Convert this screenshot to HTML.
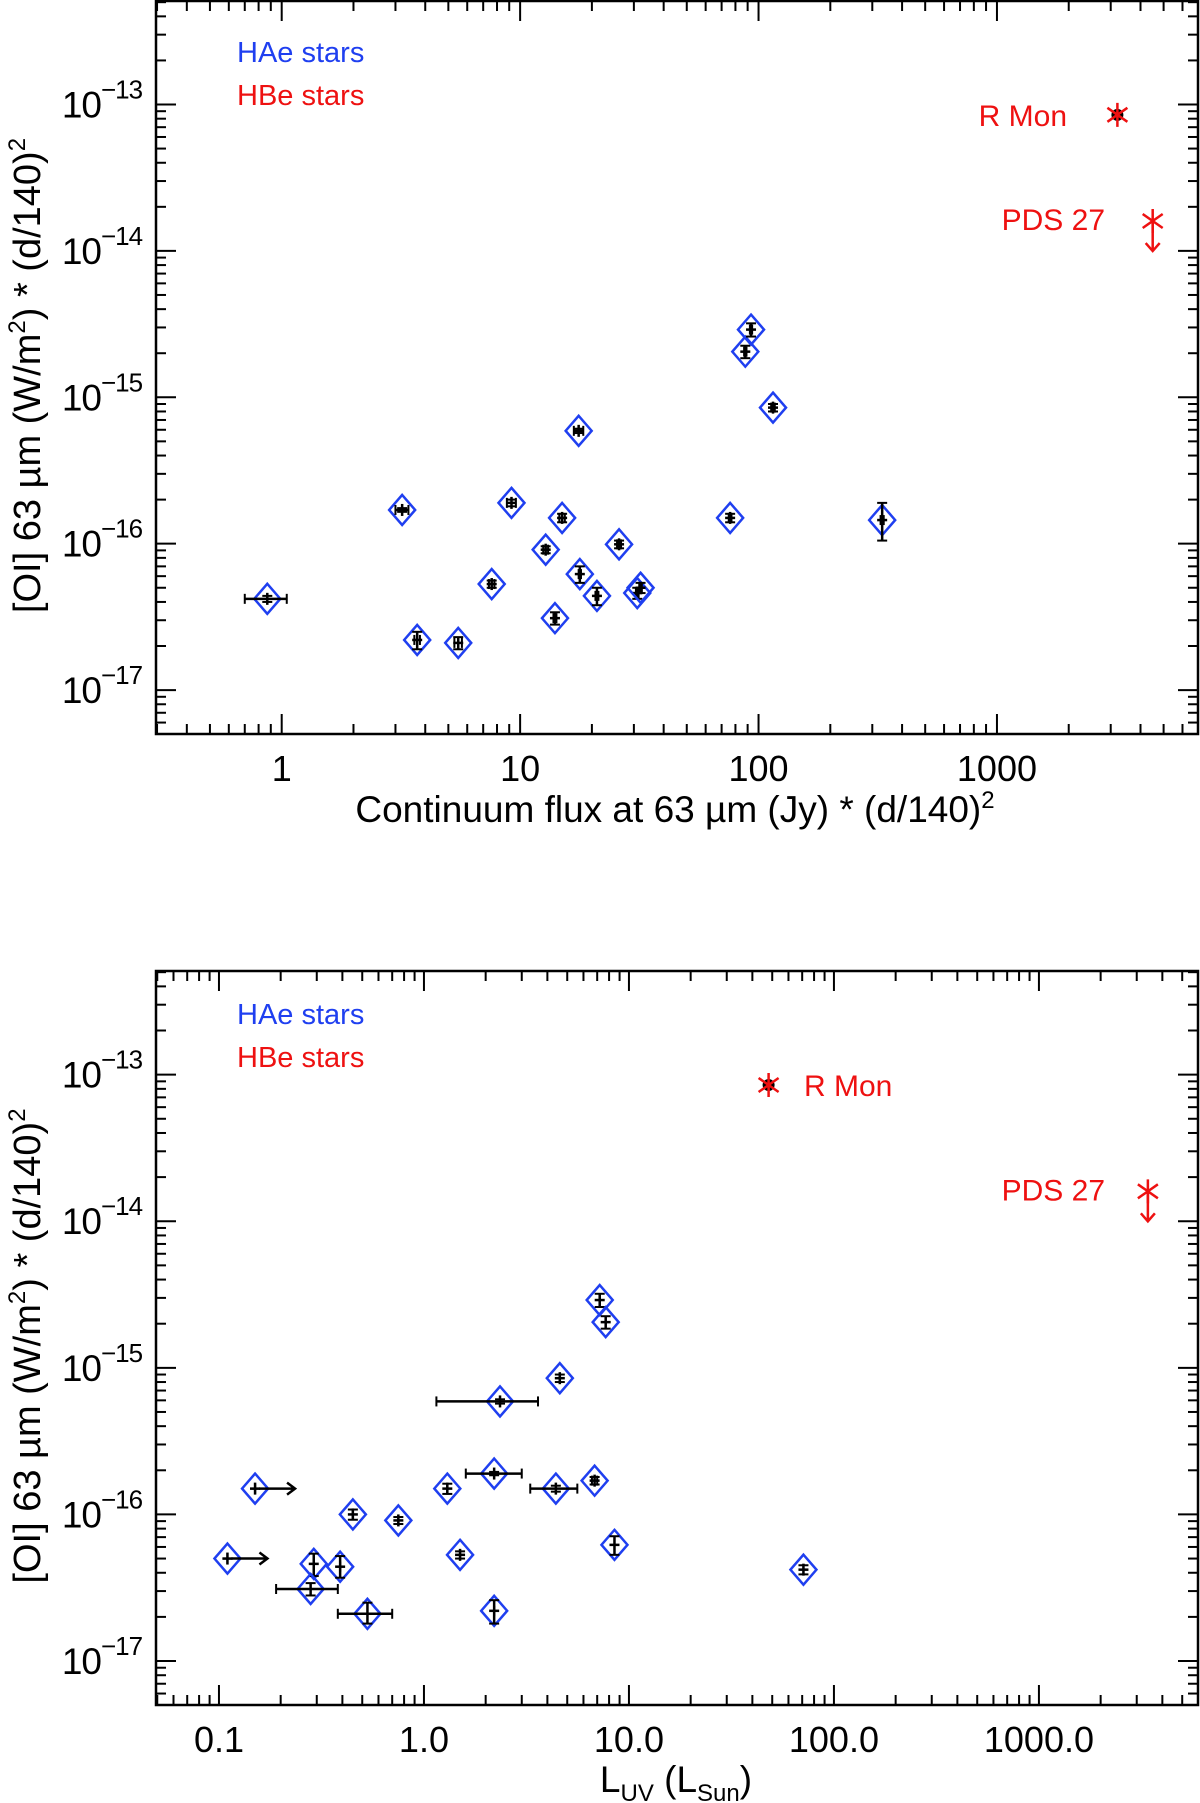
<!DOCTYPE html>
<html><head><meta charset="utf-8"><style>
html,body{margin:0;padding:0;background:#fff;}
svg{display:block;font-family:"Liberation Sans",sans-serif;}
</style></head><body>
<svg id="chart" width="1200" height="1803" viewBox="0 0 1200 1803" xmlns="http://www.w3.org/2000/svg"></svg>
<script>
// ---- Panel 1 data: continuum flux vs [OI] ----
const p1X = [0.87,3.2,3.7,5.5,7.6,9.2,12.8,14,15,17.6,17.8,21,26,31,32,76,88,93,115,330];
const p1Y = [4.2e-17,1.7e-16,2.2e-17,2.1e-17,5.3e-17,1.9e-16,9.1e-17,3.1e-17,1.5e-16,5.9e-16,6.2e-17,4.4e-17,9.9e-17,4.6e-17,5.0e-17,1.5e-16,2.05e-15,2.9e-15,8.5e-16,1.45e-16];
const p1Xlo = [0.7,3.0,3.6,5.3,7.4,8.8,12.5,13.8,14.6,16.8,17.6,20.7,25.5,30.6,31.6,75,87,92,113,325];
const p1Xhi = [1.05,3.4,3.8,5.7,7.8,9.6,13.1,14.2,15.4,18.4,18.0,21.3,26.5,31.4,32.4,77,89,94,117,335];
const p1Ylo = [4.0e-17,1.65e-16,1.9e-17,1.9e-17,5.0e-17,1.8e-16,8.6e-17,2.8e-17,1.4e-16,5.7e-16,5.4e-17,3.8e-17,9.3e-17,4.2e-17,4.6e-17,1.4e-16,1.85e-15,2.6e-15,8.0e-16,1.05e-16];
const p1Yhi = [4.4e-17,1.75e-16,2.5e-17,2.3e-17,5.6e-17,2.0e-16,9.6e-17,3.4e-17,1.6e-16,6.1e-16,7.0e-17,5.0e-17,1.05e-16,5.0e-17,5.4e-17,1.6e-16,2.25e-15,3.2e-15,9.0e-16,1.9e-16];
const p1RMon = [3200, 8.5e-14];
const p1PDS = [4500, 1.6e-14];
const p1XTicks = [1,10,100,1000];
const p1XTickLabels = ["1","10","100","1000"];
// ---- Panel 2 data: L_UV vs [OI] ----
const p2X = [0.11,0.15,0.29,0.28,0.39,0.45,0.53,0.75,1.3,1.5,2.2,2.2,2.35,4.4,4.6,6.8,7.2,7.7,8.5,71];
const p2Y = [5e-17,1.5e-16,4.6e-17,3.1e-17,4.4e-17,1.0e-16,2.1e-17,9.1e-17,1.5e-16,5.3e-17,2.2e-17,1.9e-16,5.9e-16,1.5e-16,8.5e-16,1.7e-16,2.9e-15,2.05e-15,6.2e-17,4.2e-17];
const p2Xlo = [0.11,0.15,0.29,0.19,0.39,0.45,0.38,0.75,1.3,1.5,2.2,1.6,1.15,3.3,4.6,6.6,7.2,7.7,8.5,71];
const p2Xhi = [0.11,0.15,0.29,0.38,0.39,0.45,0.70,0.75,1.3,1.5,2.2,3.0,3.6,5.6,4.6,7.0,7.2,7.7,8.5,71];
const p2Ylo = [5e-17,1.5e-16,3.8e-17,2.8e-17,3.7e-17,9.2e-17,1.8e-17,8.6e-17,1.38e-16,5.0e-17,1.8e-17,1.85e-16,5.7e-16,1.43e-16,8.0e-16,1.6e-16,2.6e-15,1.85e-15,5.3e-17,3.9e-17];
const p2Yhi = [5e-17,1.5e-16,5.4e-17,3.4e-17,5.2e-17,1.08e-16,2.5e-17,9.6e-17,1.62e-16,5.6e-17,2.6e-17,1.95e-16,6.1e-16,1.57e-16,9.0e-16,1.8e-16,3.2e-15,2.25e-15,7.1e-17,4.5e-17];
const p2LowerLim = [true,true,false,false,false,false,false,false,false,false,false,false,false,false,false,false,false,false,false,false];
const p2RMon = [48, 8.5e-14];
const p2PDS = [3400, 1.6e-14];
const p2XTicks = [0.1,1,10,100,1000];
const p2XTickLabels = ["0.1","1.0","10.0","100.0","1000.0"];
const yTickExp = [-13,-14,-15,-16,-17];

const NS="http://www.w3.org/2000/svg";
const svg=document.getElementById('chart');
function mk(tag,attrs,parent){const e=document.createElementNS(NS,tag);for(const k in attrs)e.setAttribute(k,attrs[k]);(parent||svg).appendChild(e);return e;}

function panel(cfg){
  const g=mk('g',{});
  
  
  const L=156,R=1198,T=cfg.top,B=cfg.bottom;
  const lx0=Math.log10(cfg.xmin),lx1=Math.log10(cfg.xmax),ly0=-17.3,ly1=-12.293;
  const sx=v=>L+(Math.log10(v)-lx0)/(lx1-lx0)*(R-L);
  const sy=v=>B-(Math.log10(v)-ly0)/(ly1-ly0)*(B-T);
  const frame=mk('rect',{x:L,y:T,width:R-L,height:B-T,fill:'none',stroke:'#000','stroke-width':2.5},g);
  
  
  for(let d=-18;d<=-12;d++){for(let m=1;m<=9;m++){const v=m*Math.pow(10,d);const lv=Math.log10(v);if(lv<ly0||lv>ly1)continue;const y=sy(v);const len=m===1?20:10;
    mk('line',{x1:L,x2:L+len,y1:y,y2:y,stroke:'#000','stroke-width':2},g);
    mk('line',{x1:R,x2:R-len,y1:y,y2:y,stroke:'#000','stroke-width':2},g);}}
  for(let d=-2;d<=4;d++){for(let m=1;m<=9;m++){const v=m*Math.pow(10,d);const lv=Math.log10(v);if(lv<lx0||lv>lx1)continue;const x=sx(v);const len=m===1?20:10;
    mk('line',{x1:x,x2:x,y1:B,y2:B-len,stroke:'#000','stroke-width':2},g);
    mk('line',{x1:x,x2:x,y1:T,y2:T+len,stroke:'#000','stroke-width':2},g);}}
  yTickExp.forEach(e=>{const y=sy(Math.pow(10,e));
    const t=mk('text',{x:101,y:y+13,'font-size':37,'text-anchor':'end','letter-spacing':'-1'},g);t.textContent='10';
    
    
    const s=mk('text',{x:101,y:y-6,'font-size':26,'letter-spacing':'-1'},g);s.textContent='\u2212'+(-e);});
  cfg.xt.forEach((v,i)=>{const t=mk('text',{x:sx(v),y:B+47,'font-size':36,'text-anchor':'middle'},g);t.textContent=cfg.xtl[i];
    
    });
  const yt=mk('text',{transform:`translate(40,${(T+B)/2+8}) rotate(-90)`,'font-size':38,'text-anchor':'middle'},g);
  
  
  yt.innerHTML='[OI] 63 \u00b5m (W/m<tspan font-size="24" dy="-15">2</tspan><tspan dy="15">) * (d/140)</tspan><tspan font-size="24" dy="-15">2</tspan>';
  const xtt=mk('text',{x:cfg.xtitleX,y:cfg.xtitleY,'font-size':cfg.xtitleSize,'text-anchor':'middle'},g);
  
  
  xtt.innerHTML=cfg.xtitle;
  const l1=mk('text',{x:237,y:T+cfg.legOff,'font-size':29,fill:'#1f3ff0'},g);l1.textContent='HAe stars';
  
  
  const l2=mk('text',{x:237,y:T+cfg.legOff+43,'font-size':29,fill:'#ee1111'},g);l2.textContent='HBe stars';
  
  
  cfg.X.forEach((xv,i)=>{
    const x=sx(xv),y=sy(cfg.Y[i]);
    const pg=mk('g',{},g);
    
    
    const x1=sx(cfg.Xlo[i]),x2=sx(cfg.Xhi[i]),y1=sy(cfg.Ylo[i]),y2=sy(cfg.Yhi[i]);
    mk('polygon',{points:`${x},${y-15} ${x+13},${y} ${x},${y+15} ${x-13},${y}`,fill:'none',stroke:'#1f3ff0','stroke-width':2.5},pg);
    mk('line',{x1:Math.min(x1,x-5),x2:Math.max(x2,x+5),y1:y,y2:y,stroke:'#000','stroke-width':2.5},pg);
    mk('line',{x1:x1,x2:x1,y1:y-5,y2:y+5,stroke:'#000','stroke-width':2},pg);
    mk('line',{x1:x2,x2:x2,y1:y-5,y2:y+5,stroke:'#000','stroke-width':2},pg);
    mk('line',{x1:x,x2:x,y1:Math.max(y1,y+6),y2:Math.min(y2,y-6),stroke:'#000','stroke-width':2.5},pg);
    mk('line',{x1:x-5,x2:x+5,y1:y1,y2:y1,stroke:'#000','stroke-width':2},pg);
    mk('line',{x1:x-5,x2:x+5,y1:y2,y2:y2,stroke:'#000','stroke-width':2},pg);
    if(cfg.LL&&cfg.LL[i]){mk('path',{d:`M${x+4},${y} h36 m-8,-6 l8,6 l-8,6`,fill:'none',stroke:'#000','stroke-width':2.5},pg);}
  });
  function star(pt,nm,arrow){
    const x=sx(pt[0]),y=sy(pt[1]);const sg=mk('g',{},g);
    
    
    if(!arrow) mk('circle',{cx:x,cy:y,r:6,fill:'#000'},sg);
    mk('path',{d:`M${x},${y-12}V${y+12}M${x-10},${y-7}L${x+10},${y+7}M${x-10},${y+7}L${x+10},${y-7}`,stroke:'#ee1111','stroke-width':2.5,fill:'none'},sg);
    if(arrow) mk('path',{d:`M${x},${y}V${y+30}M${x-7},${y+22}L${x},${y+30}L${x+7},${y+22}`,stroke:'#ee1111','stroke-width':2.5,fill:'none'},sg);
  }
  star(cfg.rmon,'r-mon-point',false);
  star(cfg.pds,'pds27-point',true);
  const rl=mk('text',{x:cfg.rmonLX,y:sy(cfg.rmon[1])+11,'font-size':30,fill:'#ee1111','text-anchor':cfg.rmonAnchor},g);rl.textContent='R Mon';
  
  
  const pl=mk('text',{x:1105,y:sy(cfg.pds[1])+9,'font-size':30,fill:'#ee1111','text-anchor':'end'},g);pl.textContent='PDS 27';
  
  
}
panel({name:'top-panel',top:1,bottom:734,xmin:0.297,xmax:6970,X:p1X,Y:p1Y,Xlo:p1Xlo,Xhi:p1Xhi,Ylo:p1Ylo,Yhi:p1Yhi,
  rmon:p1RMon,pds:p1PDS,xt:p1XTicks,xtl:p1XTickLabels,xtitleX:675,xtitleY:822,xtitleSize:37,legOff:61,rmonLX:1067,rmonAnchor:'end',
  xtitle:'Continuum flux at 63 \u00b5m (Jy) * (d/140)<tspan font-size="24" dy="-14">2</tspan>'});
panel({name:'bottom-panel',top:971,bottom:1705,xmin:0.0493,xmax:5970,X:p2X,Y:p2Y,Xlo:p2Xlo,Xhi:p2Xhi,Ylo:p2Ylo,Yhi:p2Yhi,LL:p2LowerLim,
  rmon:p2RMon,pds:p2PDS,xt:p2XTicks,xtl:p2XTickLabels,xtitleX:676,xtitleY:1792,xtitleSize:37,legOff:53,rmonLX:804,rmonAnchor:'start',
  xtitle:'L<tspan font-size="24" dy="9">UV</tspan><tspan dy="-9">  (L</tspan><tspan font-size="24" dy="9">Sun</tspan><tspan dy="-9">)</tspan>'});
</script>
</body></html>
